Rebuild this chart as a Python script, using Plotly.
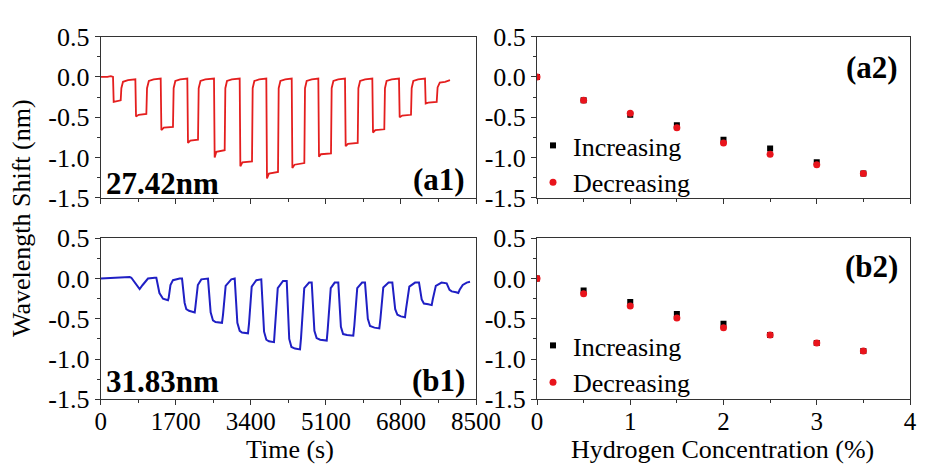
import plotly.graph_objects as go

# ---------------- data ----------------
# (a1) red time trace
t_a1 = [0, 150, 230, 279,
        294, 350, 453, 468, 505, 618, 785,
        800, 860, 1034, 1049, 1090, 1200, 1359,
        1374, 1430, 1637, 1652, 1690, 1800, 1962,
        1977, 2030, 2204, 2219, 2260, 2370, 2566,
        2581, 2620, 2808, 2823, 2860, 2970, 3148,
        3163, 3210, 3427, 3442, 3480, 3590, 3751,
        3766, 3810, 4016, 4031, 4070, 4180, 4326,
        4341, 4390, 4612, 4627, 4665, 4780, 4929,
        4944, 4990, 5216, 5231, 5270, 5380, 5533,
        5548, 5600, 5821, 5836, 5875, 5990, 6152,
        6167, 6220, 6423, 6438, 6475, 6590, 6756,
        6771, 6830, 7028, 7043, 7080, 7190, 7345,
        7360, 7420, 7610, 7630, 7680, 7800, 7911]
v_a1 = [0.00, 0.00, 0.01, 0.00,
        -0.31, -0.30, -0.29, -0.14, -0.06, -0.04, -0.03,
        -0.49, -0.47, -0.46, -0.14, -0.05, -0.03, -0.02,
        -0.66, -0.63, -0.62, -0.14, -0.05, -0.03, -0.02,
        -0.82, -0.79, -0.78, -0.14, -0.05, -0.03, -0.02,
        -1.00, -0.93, -0.91, -0.14, -0.05, -0.03, -0.02,
        -1.11, -1.06, -1.05, -0.14, -0.05, -0.03, -0.02,
        -1.26, -1.20, -1.18, -0.14, -0.05, -0.03, -0.02,
        -1.13, -1.09, -1.07, -0.14, -0.05, -0.03, -0.02,
        -0.99, -0.96, -0.95, -0.14, -0.05, -0.03, -0.02,
        -0.86, -0.83, -0.82, -0.14, -0.05, -0.03, -0.02,
        -0.69, -0.66, -0.65, -0.14, -0.05, -0.03, -0.02,
        -0.50, -0.48, -0.47, -0.14, -0.05, -0.03, -0.02,
        -0.33, -0.32, -0.31, -0.13, -0.07, -0.06, -0.04]

# (b1) blue time trace
t_b1 = [0, 300, 656, 694, 780, 882, 950, 1071, 1223,
        1260, 1330, 1411, 1524, 1540, 1580, 1637, 1789,
        1842, 1900, 1939, 2000, 2129, 2143, 2200, 2279, 2400,
        2430, 2490, 2543, 2600, 2747, 2770, 2830, 2958,
        3035, 3095, 3148, 3200, 3336, 3359, 3420, 3525,
        3637, 3700, 3751, 3810, 3925, 3941, 4010, 4129,
        4213, 4270, 4320, 4400, 4514, 4537, 4610, 4720,
        4779, 4840, 4890, 4970, 5119, 5140, 5210, 5300,
        5381, 5440, 5490, 5580, 5721, 5745, 5810, 5920,
        5986, 6050, 6100, 6200, 6310, 6335, 6400, 6520,
        6605, 6670, 6720, 6800, 6892, 6915, 6990, 7120,
        7209, 7270, 7320, 7420, 7497, 7520, 7590, 7720,
        7836, 7900, 7950, 8050, 8099, 8130, 8200, 8290, 8364]
v_b1 = [0.00, 0.01, 0.02, 0.01, -0.06, -0.13, -0.08, 0.00, 0.01,
        0.01, -0.18, -0.25, -0.27, -0.24, -0.08, -0.02, 0.00,
        0.00, -0.30, -0.38, -0.40, -0.42, -0.36, -0.08, -0.01, 0.00,
        0.00, -0.42, -0.52, -0.54, -0.55, -0.45, -0.09, -0.01,
        0.00, -0.55, -0.65, -0.67, -0.68, -0.56, -0.10, -0.02,
        -0.01, -0.66, -0.76, -0.78, -0.79, -0.66, -0.12, -0.03,
        -0.03, -0.75, -0.85, -0.87, -0.88, -0.74, -0.12, -0.05,
        -0.05, -0.65, -0.74, -0.76, -0.77, -0.64, -0.12, -0.05,
        -0.05, -0.60, -0.69, -0.70, -0.71, -0.58, -0.12, -0.05,
        -0.05, -0.50, -0.59, -0.61, -0.62, -0.50, -0.11, -0.05,
        -0.05, -0.38, -0.45, -0.47, -0.48, -0.38, -0.10, -0.05,
        -0.05, -0.26, -0.31, -0.32, -0.33, -0.26, -0.09, -0.05,
        -0.06, -0.14, -0.16, -0.17, -0.18, -0.14, -0.08, -0.05, -0.04]

# (a2), (b2) concentration response
conc = [0, 0.5, 1.0, 1.5, 2.0, 2.5, 3.0, 3.5]
a2_inc = [0, -0.29, -0.47, -0.60, -0.78, -0.89, -1.06, -1.20]
a2_dec = [0, -0.29, -0.45, -0.63, -0.82, -0.96, -1.09, -1.20]
b2_inc = [0, -0.15, -0.29, -0.44, -0.56, -0.70, -0.80, -0.90]
b2_dec = [0, -0.19, -0.34, -0.49, -0.61, -0.70, -0.80, -0.90]

time_ticks = [0, 1700, 3400, 5100, 6800, 8500]
conc_ticks = [0, 1, 2, 3, 4]
y_ticks = [-1.5, -1.0, -0.5, 0.0, 0.5]
y_ticktext = ["-1.5", "-1.0", "-0.5", "0.0", "0.5"]

# ---------------- figure ----------------
OFF = 8                # page body margin of the rendered HTML
W, H = 912, 459
FONT = "Liberation Serif"
LINE = "#333333"
RED = "#e41e1e"
BLUE = "#1f1fc4"

def px_x(p):
    return (p - OFF) / W

def px_y(p):
    return 1 - (p - OFF) / H

fig = go.Figure()

fig.add_trace(go.Scatter(x=t_a1, y=v_a1, mode="lines", line=dict(color=RED, width=1.8),
                         xaxis="x", yaxis="y", showlegend=False))
fig.add_trace(go.Scatter(x=t_b1, y=v_b1, mode="lines", line=dict(color=BLUE, width=2),
                         xaxis="x3", yaxis="y3", showlegend=False))

fig.add_trace(go.Scatter(x=conc, y=a2_inc, mode="markers", name="Increasing",
                         marker=dict(symbol="square", size=6, color="black"),
                         xaxis="x2", yaxis="y2", legend="legend"))
fig.add_trace(go.Scatter(x=conc, y=a2_dec, mode="markers", name="Decreasing",
                         marker=dict(symbol="circle", size=7, color="#e8141c"),
                         xaxis="x2", yaxis="y2", legend="legend"))
fig.add_trace(go.Scatter(x=conc, y=b2_inc, mode="markers", name="Increasing",
                         marker=dict(symbol="square", size=6, color="black"),
                         xaxis="x4", yaxis="y4", legend="legend2"))
fig.add_trace(go.Scatter(x=conc, y=b2_dec, mode="markers", name="Decreasing",
                         marker=dict(symbol="circle", size=7, color="#e8141c"),
                         xaxis="x4", yaxis="y4", legend="legend2"))

tickfont = dict(family=FONT, size=26, color="black")
xtickfont = dict(family=FONT, size=25, color="black")

def axis_common():
    return dict(showline=True, linecolor=LINE, linewidth=1, mirror=True,
                ticks="outside", ticklen=5, tickcolor=LINE, tickwidth=1,
                showgrid=False, zeroline=False, tickfont=tickfont, automargin=False)

left_dom = [px_x(100.7), px_x(476)]
right_dom = [px_x(537), px_x(910)]
top_dom = [px_y(197.7), px_y(36.7)]
bot_dom = [px_y(399.3), px_y(238.3)]

def xtime(anchor, labels):
    d = axis_common()
    d.update(domain=left_dom, anchor=anchor, range=[0, 8500], tickvals=time_ticks,
             showticklabels=labels, ticklabelstandoff=-5, tickfont=xtickfont,
             minor=dict(ticks="outside", ticklen=3, tickcolor=LINE, tick0=0, dtick=850, showgrid=False))
    return d

def xconc(anchor, labels):
    d = axis_common()
    d.update(domain=right_dom, anchor=anchor, range=[0, 4], tickvals=conc_ticks,
             showticklabels=labels, ticklabelstandoff=-5, tickfont=xtickfont,
             minor=dict(ticks="outside", ticklen=3, tickcolor=LINE, tick0=0, dtick=0.5, showgrid=False))
    return d

def yax(dom, anchor):
    d = axis_common()
    d.update(domain=dom, anchor=anchor, range=[-1.5, 0.5], tickvals=y_ticks, ticktext=y_ticktext,
             minor=dict(ticks="outside", ticklen=3, tickcolor=LINE, tick0=0, dtick=0.25, showgrid=False))
    return d

legend_common = dict(font=dict(family=FONT, size=26, color="black"), bgcolor="rgba(0,0,0,0)",
                     borderwidth=0, xanchor="left", yanchor="top", tracegroupgap=0)

fig.update_layout(
    width=W, height=H,
    margin=dict(l=0, r=0, t=0, b=0, pad=0, autoexpand=False),
    paper_bgcolor="white", plot_bgcolor="white",
    xaxis=xtime("y", False),
    yaxis=yax(top_dom, "x"),
    xaxis2=xconc("y2", False),
    yaxis2=yax(top_dom, "x2"),
    xaxis3=xtime("y3", True),
    yaxis3=yax(bot_dom, "x3"),
    xaxis4=xconc("y4", True),
    yaxis4=yax(bot_dom, "x4"),
    legend=dict(x=px_x(533), y=px_y(122), **legend_common),
    legend2=dict(x=px_x(533), y=px_y(322), **legend_common),
)

ann_font_b = dict(family=FONT, size=31, color="black")
annots = [
    dict(text="<b>(a1)</b>", x=px_x(467), y=px_y(180), xanchor="right", yanchor="middle"),
    dict(text="<b>27.42nm</b>", x=px_x(104), y=px_y(183), xanchor="left", yanchor="middle"),
    dict(text="<b>(b1)</b>", x=px_x(467), y=px_y(380), xanchor="right", yanchor="middle"),
    dict(text="<b>31.83nm</b>", x=px_x(104), y=px_y(381), xanchor="left", yanchor="middle"),
    dict(text="<b>(a2)</b>", x=px_x(900), y=px_y(67), xanchor="right", yanchor="middle"),
    dict(text="<b>(b2)</b>", x=px_x(900), y=px_y(266), xanchor="right", yanchor="middle"),
]
for a in annots:
    fig.add_annotation(xref="paper", yref="paper", showarrow=False, font=ann_font_b, **a)

title_font = dict(family=FONT, size=26, color="black")
fig.add_annotation(text="Wavelength Shift (nm)", xref="paper", yref="paper", x=px_x(22), y=px_y(218),
                   textangle=-90, showarrow=False, font=title_font, xanchor="center", yanchor="middle")
fig.add_annotation(text="Time (s)", xref="paper", yref="paper", x=px_x(290), y=px_y(449),
                   showarrow=False, font=title_font, xanchor="center", yanchor="middle")
fig.add_annotation(text="Hydrogen Concentration (%)", xref="paper", yref="paper", x=px_x(722), y=px_y(449),
                   showarrow=False, font=title_font, xanchor="center", yanchor="middle")

fig.write_html("out.html")
